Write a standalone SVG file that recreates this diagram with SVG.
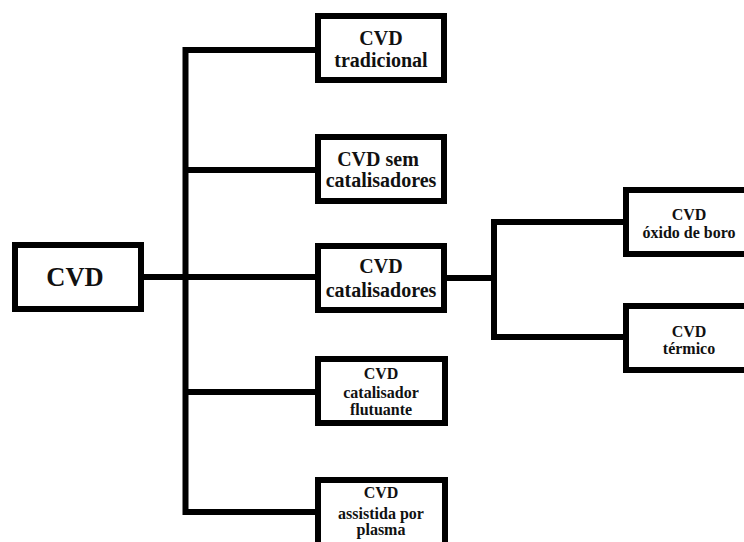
<svg xmlns="http://www.w3.org/2000/svg" width="744" height="542" viewBox="0 0 744 542">
<style>
.box{fill:#fff;stroke:#000;stroke-width:6}
.ln{fill:none;stroke:#000;stroke-width:6;stroke-linejoin:miter}
.l{font-size:26.5px}
.m{font-size:20px}
.s{font-size:16px}
</style>
<rect width="744" height="542" fill="#fff"/>
<g id="connectors">
<path class="ln" d="M144,277 H315"/>
<path class="ln" d="M315,50 H185.5 V512 H315"/>
<path class="ln" d="M185.5,170 H315"/>
<path class="ln" d="M185.5,392 H315"/>
<path class="ln" d="M447,278 H494"/>
<path class="ln" d="M623,222 H494 V337 H623"/>
</g>
<g font-family="Liberation Serif, DejaVu Serif, serif" font-weight="bold" fill="#111" text-anchor="middle">
<g id="cvd">
<rect class="box" x="15" y="245" width="126" height="64"/>
<text class="l" x="75" y="286">CVD</text>
</g>
<g id="tradicional">
<rect class="box" x="318" y="16" width="126" height="64"/>
<text class="m" x="381" y="45">CVD</text>
<text class="m" x="381" y="67">tradicional</text>
</g>
<g id="sem">
<rect class="box" x="318" y="137" width="126" height="64"/>
<text class="m" x="378" y="166">CVD sem</text>
<text class="m" x="381" y="187">catalisadores</text>
</g>
<g id="catalisadores">
<rect class="box" x="318" y="246" width="126" height="64"/>
<text class="m" x="381" y="273">CVD</text>
<text class="m" x="381" y="297">catalisadores</text>
</g>
<g id="flutuante">
<rect class="box" x="318" y="359" width="127" height="64"/>
<text class="s" x="381" y="379">CVD</text>
<text class="s" x="381" y="398">catalisador</text>
<text class="s" x="381" y="415">flutuante</text>
</g>
<g id="plasma">
<rect class="box" x="318" y="480" width="127" height="70"/>
<text class="s" x="381" y="498">CVD</text>
<text class="s" x="381" y="519">assistida por</text>
<text class="s" x="381" y="535">plasma</text>
</g>
<g id="oxido">
<rect class="box" x="626" y="190" width="130" height="64"/>
<text class="s" x="689" y="220">CVD</text>
<text class="s" x="689" y="238">óxido de boro</text>
</g>
<g id="termico">
<rect class="box" x="626" y="306" width="130" height="64"/>
<text class="s" x="689" y="337">CVD</text>
<text class="s" x="689" y="354">térmico</text>
</g>
</g>
</svg>
